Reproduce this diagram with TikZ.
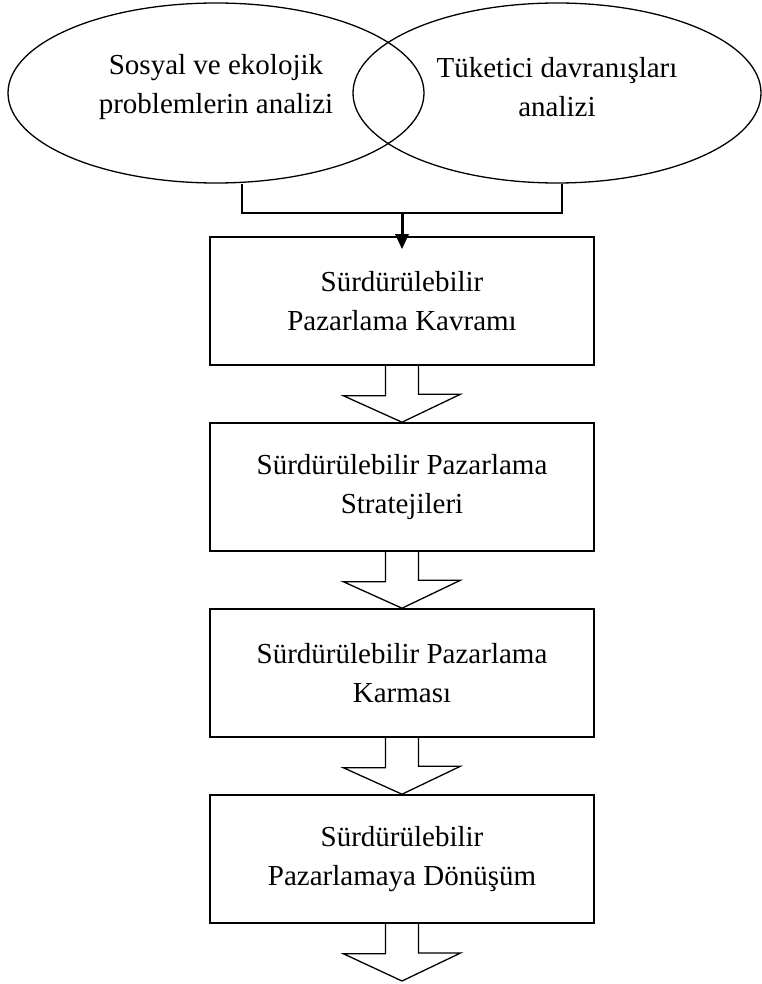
\documentclass[tikz,border=0pt]{standalone}
\usepackage{fontspec}
\setmainfont{Liberation Serif}
\usetikzlibrary{shapes.geometric,arrows.meta,calc}

% hollow block arrow from the bottom of one stage to a target point
\newcommand\flowarrow[2]{%
  \draw[hollow] ([xshift=-16.5pt]#1.south) -- ++(0,30) -- ++(-42,0) -- (#2)
    -- ++(58.5,-28) -- ++(-42,0) -- ++(0,-30);}

\begin{document}
\begin{tikzpicture}[x=1pt,y=-1pt,
  every node/.style={font=\fontsize{29}{39}\selectfont},
  oval/.style={draw, ellipse, line width=1.3pt, inner sep=0pt,
               minimum height=180pt},
  ovaltext/.style={align=center, inner sep=0pt},
  stage/.style={draw, line width=1.6pt, minimum width=384pt,
                minimum height=128pt, inner sep=0pt, align=center},
  hollow/.style={draw, line width=1.3pt, line join=miter},
  bracket/.style={draw, line width=1.6pt},
  feed/.style={line width=3pt, -{Triangle[width=13pt,length=15pt]},
               shorten >=-13pt}]
\useasboundingbox (0,0) rectangle (761,984);

% the two analysis ovals
\node[oval, minimum width=416pt] (L) at (216,93) {};
\node[oval, minimum width=408pt] (R) at (557,93) {};
\node[ovaltext] (Ltext) at (216,87) {Sosyal ve ekolojik\\problemlerin analizi};
\node[ovaltext] (Rtext) at (557,87) {Tüketici davranışları\\analizi};

% the four stages
\node[stage] (b1) at (402,301)   {Sürdürülebilir\\Pazarlama Kavramı};
\node[stage] (b2) at (402,487)   {Sürdürülebilir Pazarlama\\Stratejileri};
\node[stage] (b3) at (402,673)   {Sürdürülebilir Pazarlama\\Karması};
\node[stage] (b4) at (402,859)   {Sürdürülebilir\\Pazarlamaya Dönüşüm};

% bracket joining the ovals
\coordinate (bl) at (242,0);
\coordinate (br) at (562,0);
\coordinate (join) at (402,213);
\draw[bracket] (L.south -| bl) |- (join) -| (R.south -| br);
\draw[feed] (join) -- (b1.north);

% block arrows between stages
\coordinate (end) at (402,981);
\flowarrow{b1}{b2.north}
\flowarrow{b2}{b3.north}
\flowarrow{b3}{b4.north}
\flowarrow{b4}{end}
\end{tikzpicture}
\end{document}
